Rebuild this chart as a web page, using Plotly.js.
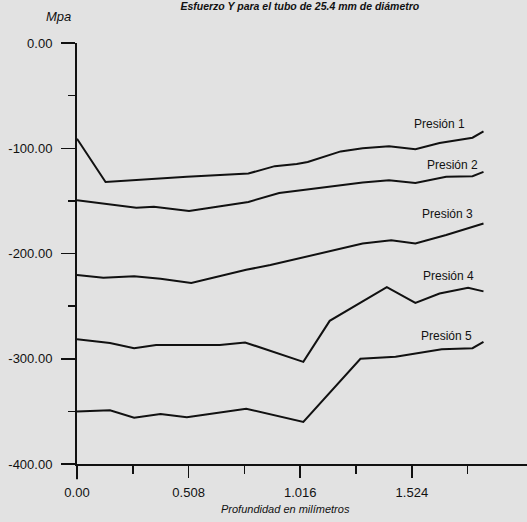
<!DOCTYPE html>
<html>
<head>
<meta charset="utf-8">
<script src="https://cdn.plot.ly/plotly-3.0.1.min.js"></script>
<style>html,body{margin:0;padding:0;background:#e2e2e2;}#chart{width:527px;height:522px;}</style>
</head>
<body>
<div id="chart"></div>
<script>
// Depth (mm) and stress (MPa)
const p1x = [0, 0.13, 0.50, 0.78, 0.90, 1.00, 1.05, 1.20, 1.30, 1.42, 1.54, 1.65, 1.80, 1.85];
const p1y = [-91, -132, -127, -124, -117, -115, -113, -103, -100, -98, -101, -95, -90, -84];

const p2x = [0, 0.135, 0.27, 0.35, 0.41, 0.51, 0.78, 0.92, 1.02, 1.30, 1.42, 1.54, 1.68, 1.80, 1.85];
const p2y = [-149.5, -153, -156.5, -155.5, -157, -159.5, -151, -142.5, -140, -132.5, -130.5, -133, -127, -126.5, -122.5];

const p3x = [0, 0.12, 0.26, 0.38, 0.52, 0.77, 0.88, 1.00, 1.15, 1.30, 1.43, 1.54, 1.68, 1.85];
const p3y = [-220.5, -223, -221.5, -224, -228, -215.5, -211, -205, -198, -190.5, -187.5, -190.5, -182.5, -171.5];

const p4x = [0, 0.15, 0.26, 0.36, 0.65, 0.765, 1.03, 1.15, 1.41, 1.54, 1.65, 1.78, 1.85];
const p4y = [-281.5, -285, -290, -287, -287, -284.5, -303, -264, -232, -247, -238, -232.5, -236];

const p5x = [0, 0.15, 0.26, 0.38, 0.50, 0.77, 1.03, 1.29, 1.45, 1.66, 1.80, 1.85];
const p5y = [-350, -349, -356, -352.5, -355.5, -347.5, -360, -300, -298, -291, -290, -284];

const seriesNames = ['Presión 1', 'Presión 2', 'Presión 3', 'Presión 4', 'Presión 5'];

const yTickVals = [0, -100, -200, -300, -400];
const yTickText = ['0.00', '-100.00', '-200.00', '-300.00', '-400.00'];
const yMinorVals = [-50, -150, -250, -350];
const xTickVals = [0, 0.508, 1.016, 1.524];
const xTickText = ['0.00', '0.508', '1.016', '1.524'];
const xMinorVals = [0.254, 0.762, 1.27, 1.778];

const xs = [p1x, p2x, p3x, p4x, p5x];
const ys = [p1y, p2y, p3y, p4y, p5y];

const traces = xs.map((x, i) => ({
  x: x, y: ys[i], name: seriesNames[i], type: 'scatter', mode: 'lines',
  line: {color: '#111', width: 2}, hoverinfo: 'skip'
}));

// label placement (data coords)
const labelPos = [[1.65, -77], [1.711, -116], [1.684, -162], [1.689, -221.5], [1.68, -278]];
const tickFont = {family: 'Liberation Sans, Arial, sans-serif', size: 13, color: '#111'};
const annotations = seriesNames.map((n, i) => ({
  x: labelPos[i][0], y: labelPos[i][1], xref: 'x', yref: 'y', text: n, showarrow: false,
  xanchor: 'center', yanchor: 'middle',
  font: {family: 'Liberation Sans, Arial, sans-serif', size: 12, color: '#111'}
}));
annotations.push({
  x: -0.042, y: 1.062, xref: 'paper', yref: 'paper', text: 'Mpa', showarrow: false,
  xanchor: 'center', yanchor: 'middle',
  font: {family: 'Liberation Sans Narrow, Arial Narrow, Liberation Sans, sans-serif', size: 13, color: '#111', style: 'italic'}
});
annotations.push({
  x: 0.464, y: -0.106, xref: 'paper', yref: 'paper', text: 'Profundidad en milímetros', showarrow: false,
  xanchor: 'center', yanchor: 'middle',
  font: {family: 'Liberation Sans Narrow, Arial Narrow, Liberation Sans, sans-serif', size: 11, color: '#111', style: 'italic'}
});

const layout = {
  width: 527, height: 522,
  margin: {l: 77, r: 0, t: 43, b: 58, pad: 0},
  paper_bgcolor: '#e2e2e2', plot_bgcolor: '#e2e2e2',
  showlegend: false,
  title: {
    text: 'Esfuerzo Y para el tubo de 25.4 mm de diámetro',
    x: 0.569, xanchor: 'center', y: 0.994, yanchor: 'top', yref: 'container',
    pad: {t: 0, b: 0},
    font: {family: 'Liberation Sans Narrow, Arial Narrow, Liberation Sans, sans-serif', size: 10.5, color: '#111', style: 'italic', weight: 'bold'}
  },
  xaxis: {
    range: [0, 2.048], showgrid: false, zeroline: false,
    showline: true, linecolor: '#111', linewidth: 2,
    tickmode: 'array', tickvals: xTickVals, ticktext: xTickText,
    ticks: 'outside', ticklen: 12, tickwidth: 1.5, tickcolor: '#111',
    minor: {tickmode: 'array', tickvals: xMinorVals, ticks: 'outside', ticklen: 8, tickwidth: 1.5, tickcolor: '#111', showgrid: false},
    ticklabelstandoff: 3,
    tickfont: tickFont
  },
  yaxis: {
    range: [-400, 0], showgrid: false, zeroline: false,
    showline: true, linecolor: '#111', linewidth: 2,
    tickmode: 'array', tickvals: yTickVals, ticktext: yTickText,
    ticks: 'outside', ticklen: 14, tickwidth: 1.5, tickcolor: '#111',
    minor: {tickmode: 'array', tickvals: yMinorVals, ticks: 'outside', ticklen: 7, tickwidth: 1.5, tickcolor: '#111', showgrid: false},
    ticklabelstandoff: 6,
    tickfont: tickFont
  },
  shapes: [{
    type: 'line', xref: 'paper', yref: 'paper', x0: 0, x1: 0, y0: 0, y1: -0.036,
    line: {color: '#111', width: 2}
  }],
  annotations: annotations
};

Plotly.newPlot('chart', traces, layout, {displayModeBar: false, staticPlot: true});
</script>
</body>
</html>
